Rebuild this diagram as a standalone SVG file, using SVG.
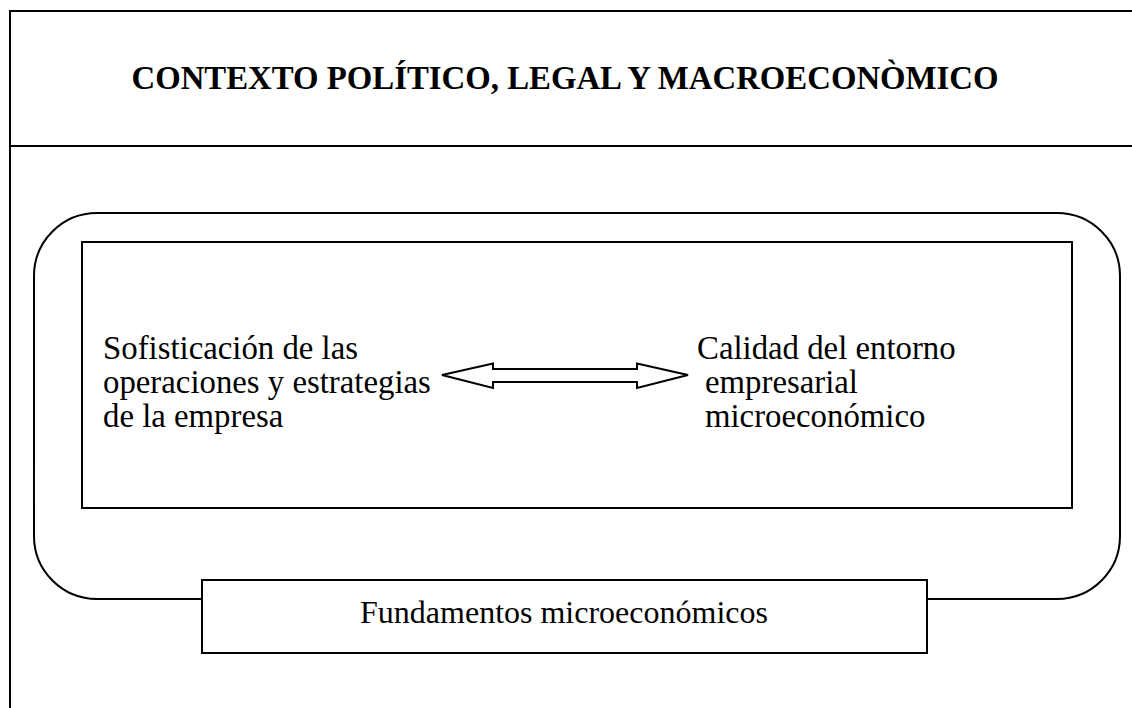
<svg xmlns="http://www.w3.org/2000/svg" width="1132" height="708" viewBox="0 0 1132 708">
<style>
.ln{fill:none;stroke:#000;stroke-width:2}
.bx{fill:#fff;stroke:#000;stroke-width:2}
.t{font-family:"Liberation Serif","Times New Roman",serif;font-size:32.8px;fill:#000}
.tb{font-family:"Liberation Serif","Times New Roman",serif;font-size:32px;fill:#000}
.title{font-family:"Liberation Serif","Times New Roman",serif;font-size:32.8px;font-weight:bold;fill:#000}
</style>
<rect width="1132" height="708" fill="#fff"/>
<g id="frame">
<path class="ln" d="M1132 11 H10 V708"/>
<line class="ln" x1="10" y1="146" x2="1132" y2="146"/>
</g>
<g id="title">
<text class="title" x="565" y="89" text-anchor="middle">CONTEXTO POLÍTICO, LEGAL Y MACROECONÒMICO</text>
</g>
<g id="microeconomic-foundations">
<rect class="ln" x="34" y="213" width="1086" height="386" rx="63" ry="63"/>
</g>
<g id="inner-box">
<rect class="ln" x="82" y="242" width="990" height="266"/>
</g>
<g id="node-left">
<text class="t" x="103" y="359">Sofisticación de las</text>
<text class="t" x="103" y="393">operaciones y estrategias</text>
<text class="t" x="103" y="427">de la empresa</text>
</g>
<g id="node-right">
<text class="t" x="697" y="359">Calidad del entorno</text>
<text class="t" x="705" y="393">empresarial</text>
<text class="t" x="705" y="427">microeconómico</text>
</g>
<g id="connectors">
<path class="bx" d="M442 375 L493 363.5 V369 H637 V363.5 L688 375 L637 388 V382 H493 V388 Z"/>
</g>
<g id="label-box">
<rect class="bx" x="202" y="580" width="725" height="73"/>
<text class="tb" x="564" y="623" text-anchor="middle">Fundamentos microeconómicos</text>
</g>
</svg>
